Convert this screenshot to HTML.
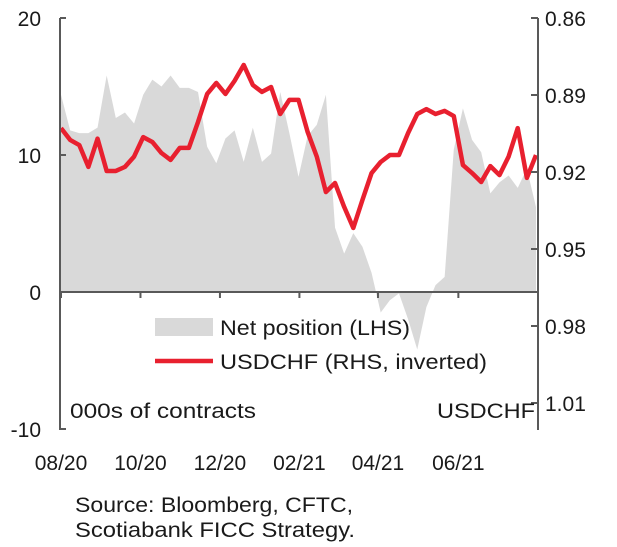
<!DOCTYPE html>
<html><head><meta charset="utf-8"><style>
body{margin:0;background:#fff;}
svg text{font-family:"Liberation Sans",Arial,sans-serif;fill:#1a1a1a;}
</style></head><body>
<svg width="617" height="542" viewBox="0 0 617 542" xmlns="http://www.w3.org/2000/svg">
<g id="plot"></g>
<g id="axes"></g>
<g>
<rect x="155" y="318" width="58" height="18" fill="#d9d9d9"/>
<text x="220" y="335" font-size="21.5" textLength="190" lengthAdjust="spacingAndGlyphs">Net position (LHS)</text>
<line x1="155" y1="361" x2="213" y2="361" stroke="#e8202f" stroke-width="4.5"/>
<text x="220" y="369" font-size="21.5" textLength="267" lengthAdjust="spacingAndGlyphs">USDCHF (RHS, inverted)</text>
</g>
<text x="70" y="418" font-size="21" textLength="186" lengthAdjust="spacingAndGlyphs">000s of contracts</text>
<text x="437" y="418" font-size="21" textLength="98" lengthAdjust="spacingAndGlyphs">USDCHF</text>
<text x="75" y="512" font-size="21.5" textLength="278" lengthAdjust="spacingAndGlyphs">Source: Bloomberg, CFTC,</text>
<text x="75" y="537" font-size="21.5" textLength="280" lengthAdjust="spacingAndGlyphs">Scotiabank FICC  Strategy.</text>
</svg>
<script>
const netPosition=[14.4,11.8,11.6,11.6,12.0,15.8,12.7,13.1,12.3,14.4,15.5,15.0,15.8,14.9,14.9,14.6,10.6,9.4,11.2,11.8,9.5,12.0,9.5,10.1,14.6,11.6,8.4,11.4,12.2,14.4,4.7,2.8,4.3,3.3,1.4,-1.5,-0.6,-0.1,-2.0,-4.2,-1.1,0.5,1.1,10.4,13.4,11.1,10.2,7.2,8.0,8.5,7.6,9.0,6.2];
const usdchf=[0.9029,0.9075,0.9095,0.918,0.907,0.9196,0.9196,0.918,0.914,0.9064,0.9083,0.9126,0.9153,0.9106,0.9106,0.9005,0.8896,0.8853,0.8896,0.8845,0.8783,0.8861,0.8888,0.8869,0.8974,0.8919,0.8919,0.9044,0.914,0.9278,0.9243,0.9336,0.9418,0.9309,0.9204,0.9161,0.9134,0.9134,0.9048,0.8974,0.8955,0.8974,0.8962,0.8982,0.9173,0.9204,0.9239,0.9177,0.9212,0.914,0.9029,0.9223,0.9134];
const leftTicks=[20,10,0,-10];
const rightTicks=["0.86","0.89","0.92","0.95","0.98","1.01"];
const xTickLabels=["08/20","10/20","12/20","02/21","04/21","06/21"];
const xTickIndex=[0,8.7,17.4,26.1,34.7,43.5];

const NS="http://www.w3.org/2000/svg";
const X0=60,X1=538,YT=18,YB=430;
const n=netPosition.length;
const xs=i=>X0+1+i*(X1-X0-3)/(n-1);
const yL=v=>292-v*13.7;
const yR=v=>YT+(v-0.86)/0.03*77;
function mk(tag,attrs,parent){const e=document.createElementNS(NS,tag);for(const k in attrs)e.setAttribute(k,attrs[k]);parent.appendChild(e);return e;}
const plot=document.getElementById('plot'),axes=document.getElementById('axes');
let d=`M${xs(0)},${yL(0)}`;
netPosition.forEach((v,i)=>{d+=` L${xs(i)},${yL(v)}`;});
d+=` L${xs(n-1)},${yL(0)} Z`;
const area=mk('path',{d:d,fill:'#d9d9d9'},plot);


const pts=usdchf.map((v,i)=>`${xs(i)},${yR(v)}`).join(' ');
const line=mk('polyline',{points:pts,fill:'none',stroke:'#e8202f','stroke-width':4.5,'stroke-linejoin':'round'},plot);


const st={stroke:'#595959','stroke-width':2};
const la=mk('line',Object.assign({x1:X0,y1:YT,x2:X0,y2:YB},st),axes);


const ra=mk('line',Object.assign({x1:X1,y1:YT,x2:X1,y2:YB},st),axes);


const xa=mk('line',Object.assign({x1:X0,y1:292,x2:X1,y2:292},st),axes);


leftTicks.forEach(v=>{
  mk('line',Object.assign({x1:X0,y1:yL(v),x2:X0+6,y2:yL(v)},st),axes);
  const t=mk('text',{x:41,y:yL(v)+8,'font-size':21,'text-anchor':'end'},axes);t.textContent=v;
  
  
});
rightTicks.forEach(s=>{
  const y=yR(parseFloat(s));
  mk('line',Object.assign({x1:X1-7,y1:y,x2:X1,y2:y},st),axes);
  const t=mk('text',{x:545,y:y+8,'font-size':21},axes);t.textContent=s;
  
  
});
xTickLabels.forEach((s,k)=>{
  const x=xs(xTickIndex[k]);
  mk('line',Object.assign({x1:x,y1:292,x2:x,y2:298},st),axes);
  const t=mk('text',{x:x,y:470,'font-size':21,'text-anchor':'middle'},axes);t.textContent=s;
  
  
});
</script>
</body></html>
